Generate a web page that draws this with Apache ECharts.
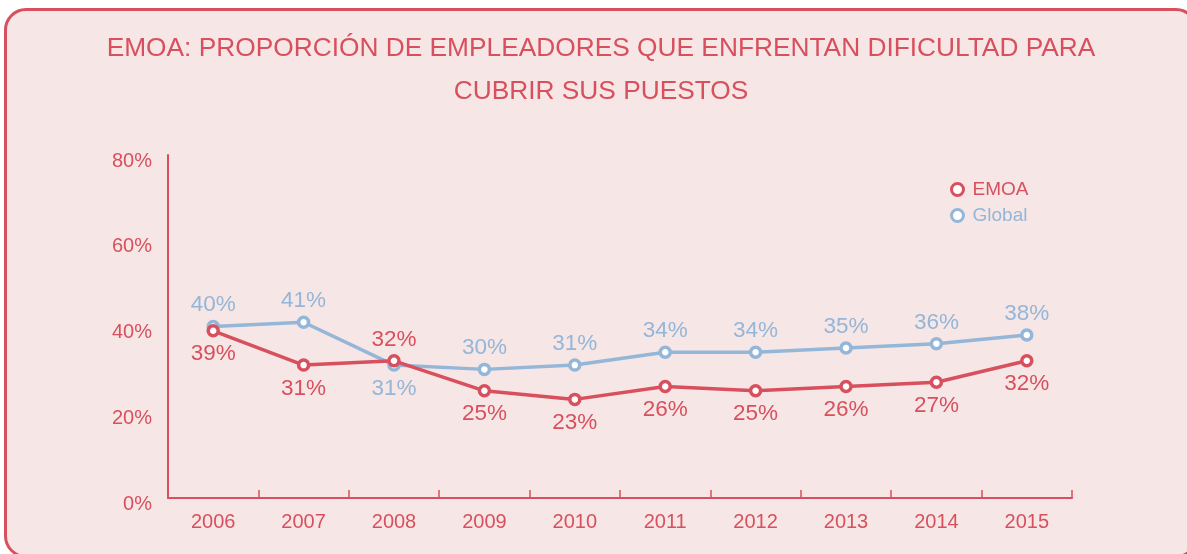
<!DOCTYPE html>
<html lang="es">
<head>
<meta charset="UTF-8">
<title>EMOA</title>
<style>
  html, body { margin: 0; padding: 0; background: #ffffff; overflow: hidden; }
  #box {
    position: absolute; left: 4px; top: 8px;
    width: 1194px; height: 550px; box-sizing: border-box;
    border: 3px solid #d8505e; border-radius: 22px;
    background: #f6e6e5;
  }
  #chart { position: absolute; left: 0; top: 0; width: 1187px; height: 554px; }
</style>
</head>
<body>
<div id="box"></div>
<div id="chart"></div>
<script src="https://cdn.jsdelivr.net/npm/echarts@6/dist/echarts.min.js"></script>
<script>
  var years = ['2006', '2007', '2008', '2009', '2010', '2011', '2012', '2013', '2014', '2015'];
  var emoa = [39, 31, 32, 25, 23, 26, 25, 26, 27, 32];
  var global = [40, 41, 31, 30, 31, 34, 34, 35, 36, 38];
  var yTicks = [0, 20, 40, 60, 80];

  var red = '#d8505e';
  var blue = '#94b6d8';

  // etiquetas: EMOA abajo salvo 2008, Global arriba salvo 2008
  function withLabels(values, normalPos, flipPos, flipIndex) {
    return values.map(function (v, i) {
      var pos = i === flipIndex ? flipPos : normalPos;
      return { value: v, label: { position: pos, distance: pos === 'top' ? 3 : 5 } };
    });
  }

  var myChart = echarts.init(document.getElementById('chart'));
  var option = {
    backgroundColor: 'transparent',
    title: {
      text: 'EMOA: PROPORCIÓN DE EMPLEADORES QUE ENFRENTAN DIFICULTAD PARA\nCUBRIR SUS PUESTOS',
      left: 596,
      top: 22,
      textAlign: 'center',
      textStyle: {
        color: red,
        fontFamily: 'Liberation Sans',
        fontWeight: 'normal',
        fontSize: 26.3,
        lineHeight: 43
      }
    },
    legend: {
      orient: 'vertical',
      left: 945,
      top: 175,
      itemWidth: 12,
      itemHeight: 12,
      itemGap: 7,
      data: [
        { name: 'EMOA', icon: 'circle', itemStyle: { color: '#fff', borderColor: red, borderWidth: 3 }, textStyle: { color: red } },
        { name: 'Global', icon: 'circle', itemStyle: { color: '#fff', borderColor: blue, borderWidth: 3 }, textStyle: { color: blue } }
      ],
      textStyle: { fontFamily: 'Liberation Sans', fontSize: 19, padding: [0, 0, 0, 4] }
    },
    grid: { left: 168, right: 115, top: 155, bottom: 56 },
    xAxis: {
      type: 'category',
      data: years,
      boundaryGap: true,
      axisLine: { lineStyle: { color: red, width: 2 } },
      axisTick: { show: true, inside: true, length: 8, interval: 0, lineStyle: { color: red, width: 1.5 } },
      axisLabel: { color: red, fontFamily: 'Liberation Sans', fontSize: 20, margin: 14 }
    },
    yAxis: {
      type: 'value',
      min: yTicks[0],
      max: yTicks[yTicks.length - 1],
      interval: 20,
      splitLine: { show: false },
      axisTick: { show: false },
      axisLine: { show: true, lineStyle: { color: red, width: 2 } },
      axisLabel: {
        margin: 16,
        formatter: '{a|{value}%}',
        rich: {
          a: { color: red, fontFamily: 'Liberation Sans', fontSize: 20, padding: [12, 0, 0, 0] }
        }
      }
    },
    series: [
      {
        name: 'Global',
        type: 'line',
        z: 2,
        data: withLabels(global, 'top', 'bottom', 2),
        symbol: 'circle',
        symbolSize: 10,
        lineStyle: { color: blue, width: 3.5 },
        itemStyle: { color: '#fff', borderColor: blue, borderWidth: 3.5 },
        label: { show: true, color: blue, fontFamily: 'Liberation Sans', fontSize: 22.5, formatter: '{c}%' }
      },
      {
        name: 'EMOA',
        type: 'line',
        z: 3,
        data: withLabels(emoa, 'bottom', 'top', 2),
        symbol: 'circle',
        symbolSize: 10,
        lineStyle: { color: red, width: 3.5 },
        itemStyle: { color: '#fff', borderColor: red, borderWidth: 3.5 },
        label: { show: true, color: red, fontFamily: 'Liberation Sans', fontSize: 22.5, formatter: '{c}%' }
      }
    ]
  };
  myChart.setOption(option);
</script>
</body>
</html>
